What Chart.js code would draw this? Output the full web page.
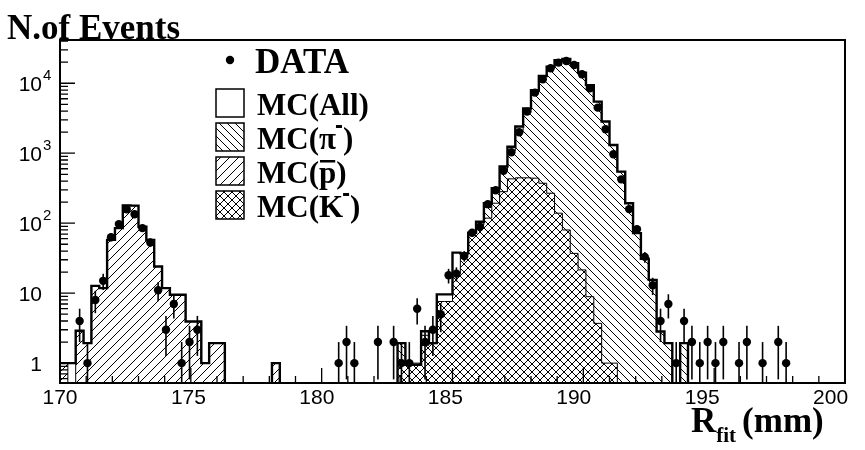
<!DOCTYPE html>
<html>
<head>
<meta charset="utf-8">
<script src="https://cdn.jsdelivr.net/npm/chart.js@4.4.1/dist/chart.umd.min.js"></script>
<style>
  html, body { margin: 0; padding: 0; background: #fff; }
  #wrap { width: 865px; height: 450px; }
</style>
</head>
<body>
<div id="wrap"><canvas id="rfit" width="865" height="450"></canvas></div>
<script>
// 100 bins of 0.3 mm between 170 and 200 mm
const binLow = 170;
const binWidth = 0.3;
const nBins = 100;

// MC(All) outline
const mcAll = [
  1, 1, 2.9, 1.93, 12.7, 11.8, 57.7, 85, 180, 178,
  89, 57.7, 24, 11.8, 9.5, 9.5, 3.93, 3.93, 1, 1.93,
  1.93, 0, 0, 0, 0, 0, 0, 1, 0, 0,
  0, 0, 0, 0, 0, 0, 0, 0, 0, 0,
  0, 0, 0, 1.93, 0.95, 0.95, 2.85, 1.93, 9.6, 9.6,
  38, 37, 73, 105, 193, 315, 646, 1240, 2410, 4370,
  7960, 12700, 17300, 21300, 22200, 19300, 14100, 9400, 5470, 2840,
  1310, 545, 193, 72, 31, 15.5, 2.83, 1.93, 0, 1.93,
  0, 0, 0, 0, 0, 0, 0, 0, 0, 0,
  0, 0, 0, 0, 0, 0, 0, 0, 0, 0
];

// MC(pi-)
const mcPi = [
  0, 0, 0, 0, 0, 0, 0, 0, 0, 0,
  0, 0, 0, 0, 0, 0, 0, 0, 0, 0,
  0, 0, 0, 0, 0, 0, 0, 0, 0, 0,
  0, 0, 0, 0, 0, 0, 0, 0, 0, 0,
  0, 0, 0, 1.93, 0, 0, 2.5, 0.8, 2, 2,
  15, 20, 40, 91, 168, 274, 562, 1080, 2100, 3800,
  7400, 12700, 17300, 21300, 22200, 19300, 14100, 9400, 5470, 2840,
  1310, 545, 193, 72, 31, 15.5, 2.83, 1.93, 0, 1.93,
  0, 0, 0, 0, 0, 0, 0, 0, 0, 0,
  0, 0, 0, 0, 0, 0, 0, 0, 0, 0
];

// MC(pbar)
const mcPbar = [
  1, 0, 2.9, 1.93, 12.7, 11.8, 57.7, 85, 180, 178,
  89, 57.7, 24, 11.8, 9.5, 9.5, 3.93, 3.93, 1, 1.93,
  1.93, 0, 0, 0, 0, 0, 0, 1, 0, 0,
  0, 0, 0, 0, 0, 0, 0, 0, 0, 0,
  0, 0, 0, 0, 0, 0, 0, 0, 0, 0,
  0, 0, 0, 0, 0, 0, 0, 0, 0, 0,
  0, 0, 0, 0, 0, 0, 0, 0, 0, 0,
  0, 0, 0, 0, 0, 0, 0, 0, 0, 0,
  0, 0, 0, 0, 0, 0, 0, 0, 0, 0,
  0, 0, 0, 0, 0, 0, 0, 0, 0, 0
];

// MC(K-)
const mcK = [
  0, 0, 0, 0, 0, 0, 0, 0, 0, 0,
  0, 0, 0, 0, 0, 0, 0, 0, 0, 0,
  0, 0, 0, 0, 0, 0, 0, 0, 0, 0,
  0, 0, 0, 0, 0, 0, 0, 0, 0, 0,
  0, 0, 0, 1, 1, 1, 1.8, 1.9, 7.6, 7.6,
  19, 37, 73, 95, 118, 193, 282, 430, 445, 445,
  440, 372, 268, 139, 80, 37, 21.5, 8.9, 3.7, 1,
  1, 0, 0, 0, 0, 0, 0, 0, 0, 0,
  0, 0, 0, 0, 0, 0, 0, 0, 0, 0,
  0, 0, 0, 0, 0, 0, 0, 0, 0, 0
];

// DATA counts per bin
const dataCounts = [
  0, 0, 4, 1, 8, 15, 63, 97, 158, 134,
  85, 53, 11, 3, 7, 1, 2, 3, 0, 0,
  0, 0, 0, 0, 0, 0, 0, 0, 0, 0,
  0, 0, 0, 0, 0, 1, 2, 1, 0, 0,
  2, 0, 2, 1, 1, 6, 2, 3, 5, 18,
  19, 34, 73, 89, 187, 295, 562, 1033, 1995, 3930,
  7340, 11400, 16400, 19700, 20800, 18250, 13450, 8490, 4480, 2200,
  968, 423, 159, 82, 33, 13, 4, 7, 1, 4,
  2, 1, 2, 1, 2, 0, 1, 2, 0, 1,
  0, 2, 1, 0, 0, 0, 0, 0, 0, 0
];

const xTicks = [170, 175, 180, 185, 190, 195, 200];
const yTicks = [1, 10, 100, 1000, 10000];
const yTickBase = ['1', '10', '10', '10', '10'];
const yTickExp = ['', '', '2', '3', '4'];

const yMin = 0.52, yMax = 41500;
const yFloor = 0.1; // empty bins are drawn below the axis

const canvas = document.getElementById('rfit');
const mainCtx = canvas.getContext('2d');

// crisp 1px hatch tiles (PAW fill styles)
function hatch(kind, size, opaque) {
  const c = document.createElement('canvas');
  c.width = c.height = size;
  const g = c.getContext('2d');
  if (opaque) { g.fillStyle = '#fff'; g.fillRect(0, 0, size, size); }
  g.fillStyle = '#000';
  for (let i = 0; i < size; i++) {
    if (kind === 'back' || kind === 'cross') g.fillRect(i, i, 1, 1);
    if (kind === 'fwd' || kind === 'cross') g.fillRect(size - 1 - i, i, 1, 1);
  }
  return mainCtx.createPattern(c, 'repeat');
}
const piFill = hatch('back', 8, false);
const pbarFill = hatch('fwd', 9, false);
const kFill = hatch('cross', 8, true);

function histPoints(vals) {
  const pts = vals.map((v, i) => ({ x: binLow + i * binWidth, y: Math.max(v, yFloor) }));
  pts.push({ x: binLow + nBins * binWidth, y: Math.max(vals[nBins - 1], yFloor) });
  return pts;
}
const dataPoints = [];
dataCounts.forEach((n, i) => {
  if (n > 0) dataPoints.push({ x: binLow + (i + 0.5) * binWidth, y: n });
});

// error bars sqrt(N)
const errorBars = {
  id: 'errorBars',
  afterDatasetsDraw(chart) {
    const { ctx, chartArea: a, scales: { x, y } } = chart;
    ctx.save();
    ctx.beginPath(); ctx.rect(a.left, a.top, a.right - a.left, a.bottom - a.top); ctx.clip();
    ctx.strokeStyle = '#000';
    ctx.lineWidth = 1.6;
    dataPoints.forEach(p => {
      const e = Math.sqrt(p.y);
      const px = x.getPixelForValue(p.x);
      ctx.beginPath();
      ctx.moveTo(px, y.getPixelForValue(p.y + e));
      ctx.lineTo(px, y.getPixelForValue(Math.max(p.y - e, yFloor)));
      ctx.stroke();
    });
    ctx.restore();
  }
};

// frame with inward ticks, axis labels
const pawFrame = {
  id: 'pawFrame',
  afterDraw(chart) {
    const { ctx, chartArea: a, scales: { x, y } } = chart;
    ctx.save();
    ctx.strokeStyle = '#000';
    ctx.lineWidth = 2;
    ctx.strokeRect(a.left, a.top, a.right - a.left, a.bottom - a.top);
    ctx.lineWidth = 1.3;
    ctx.beginPath();
    for (let v = 170; v <= 200; v++) {
      const px = x.getPixelForValue(v);
      const len = v % 5 === 0 ? 15 : 7;
      ctx.moveTo(px, a.bottom); ctx.lineTo(px, a.bottom - len);
    }
    for (let d = 0.1; d < yMax; d *= 10) {
      for (let m = 1; m <= 9; m++) {
        const v = d * m;
        if (v < yMin || v > yMax) continue;
        const py = y.getPixelForValue(v);
        const len = m === 1 ? 15 : 8;
        ctx.moveTo(a.left, py); ctx.lineTo(a.left + len, py);
      }
    }
    ctx.stroke();

    ctx.fillStyle = '#000';
    ctx.textBaseline = 'alphabetic';
    const sans = '"Liberation Sans", Arial, sans-serif';
    yTicks.forEach((v, i) => {
      const py = y.getPixelForValue(v);
      ctx.font = '21px ' + sans;
      ctx.textAlign = 'right';
      ctx.fillText(yTickBase[i], 42, py + 7.5);
      if (yTickExp[i]) {
        ctx.font = '15px ' + sans;
        ctx.textAlign = 'left';
        ctx.fillText(yTickExp[i], 43, py - 3);
      }
    });
    // PAW places the labels on a slightly shorter span than the ticks
    ctx.font = '21px ' + sans;
    ctx.textAlign = 'center';
    xTicks.forEach(v => {
      const px = x.getPixelForValue(v) - (v - 170) * 0.48;
      ctx.fillText(String(v), px, a.bottom + 21);
    });
    ctx.restore();
  }
};

// legend, axis titles
const pawText = {
  id: 'pawText',
  afterDraw(chart) {
    const ctx = chart.ctx;
    const serif = '"Liberation Serif", "Times New Roman", serif';
    ctx.save();
    ctx.fillStyle = '#000';
    ctx.strokeStyle = '#000';
    ctx.textAlign = 'left';
    ctx.textBaseline = 'alphabetic';

    ctx.font = 'bold 35px ' + serif;
    ctx.fillText('N.of Events', 7, 39);

    // legend
    ctx.beginPath(); ctx.arc(230, 60, 4.2, 0, Math.PI * 2); ctx.fill();
    ctx.font = 'bold 35px ' + serif;
    ctx.fillText('DATA', 255, 73);

    const rows = [
      { fill: '#fff', parts: ['MC(All)'] },
      { fill: piFill, parts: ['MC(', 'π', '-', ')'] },
      { fill: pbarFill, parts: ['MC(', 'p', '', ')'] },
      { fill: kFill, parts: ['MC(', 'K', '-', ')'] }
    ];
    rows.forEach((r, i) => {
      const top = 89 + i * 34;
      ctx.fillStyle = '#fff';
      ctx.fillRect(216, top, 28, 28);
      ctx.fillStyle = r.fill;
      ctx.fillRect(216, top, 28, 28);
      ctx.lineWidth = 1.5;
      ctx.strokeRect(216, top, 28, 28);
      ctx.fillStyle = '#000';
      const base = top + 26;
      let tx = 257;
      ctx.font = 'bold 31px ' + serif;
      ctx.fillText(r.parts[0], tx, base);
      tx += ctx.measureText(r.parts[0]).width;
      if (r.parts.length > 1) {
        const w = ctx.measureText(r.parts[1]).width;
        ctx.fillText(r.parts[1], tx, base);
        if (r.parts[1] === 'p') {
          ctx.fillRect(tx + 1, base - 23, w - 2, 2.5);
          tx += w;
        } else {
          tx += w;
          ctx.fillRect(tx, base - 24, 6, 3);
          tx += 7;
        }
        ctx.fillText(r.parts[3], tx, base);
      }
    });

    // x axis title
    ctx.font = 'bold 35px ' + serif;
    ctx.fillText('R', 691, 432);
    let tx = 691 + ctx.measureText('R').width;
    ctx.font = 'bold 21px ' + serif;
    ctx.fillText('fit', tx, 442);
    tx += ctx.measureText('fit').width + 6;
    ctx.font = 'bold 35px ' + serif;
    ctx.fillText('(mm)', tx, 432);
    ctx.restore();
  }
};

new Chart(canvas, {
  type: 'line',
  data: {
    datasets: [
      { label: 'DATA', data: dataPoints, showLine: false, pointRadius: 4.2, pointBackgroundColor: '#000', pointBorderWidth: 0, order: 0 },
      { label: 'MC(All)', data: histPoints(mcAll), stepped: 'before', pointRadius: 0, borderColor: '#000', borderWidth: 2.4, fill: false, order: 1 },
      { label: 'MC(K-)', data: histPoints(mcK), stepped: 'before', pointRadius: 0, borderColor: '#000', borderWidth: 1, fill: 'start', backgroundColor: kFill, order: 2 },
      { label: 'MC(pbar)', data: histPoints(mcPbar), stepped: 'before', pointRadius: 0, borderColor: '#000', borderWidth: 1, fill: 'start', backgroundColor: pbarFill, order: 3 },
      { label: 'MC(pi-)', data: histPoints(mcPi), stepped: 'before', pointRadius: 0, borderColor: '#000', borderWidth: 1, fill: 'start', backgroundColor: piFill, order: 4 }
    ]
  },
  options: {
    responsive: false,
    animation: false,
    layout: { padding: { top: 40, right: 20, left: 0, bottom: 0 } },
    plugins: { legend: { display: false }, tooltip: { enabled: false } },
    scales: {
      x: {
        type: 'linear', min: 170, max: 200,
        grid: { display: false, drawTicks: false },
        border: { display: false },
        ticks: { display: false },
        afterFit: s => { s.height = 67; }
      },
      y: {
        type: 'logarithmic', min: yMin, max: yMax,
        grid: { display: false, drawTicks: false },
        border: { display: false },
        ticks: { display: false },
        afterFit: s => { s.width = 60; }
      }
    }
  },
  plugins: [errorBars, pawFrame, pawText]
});
</script>
</body>
</html>
